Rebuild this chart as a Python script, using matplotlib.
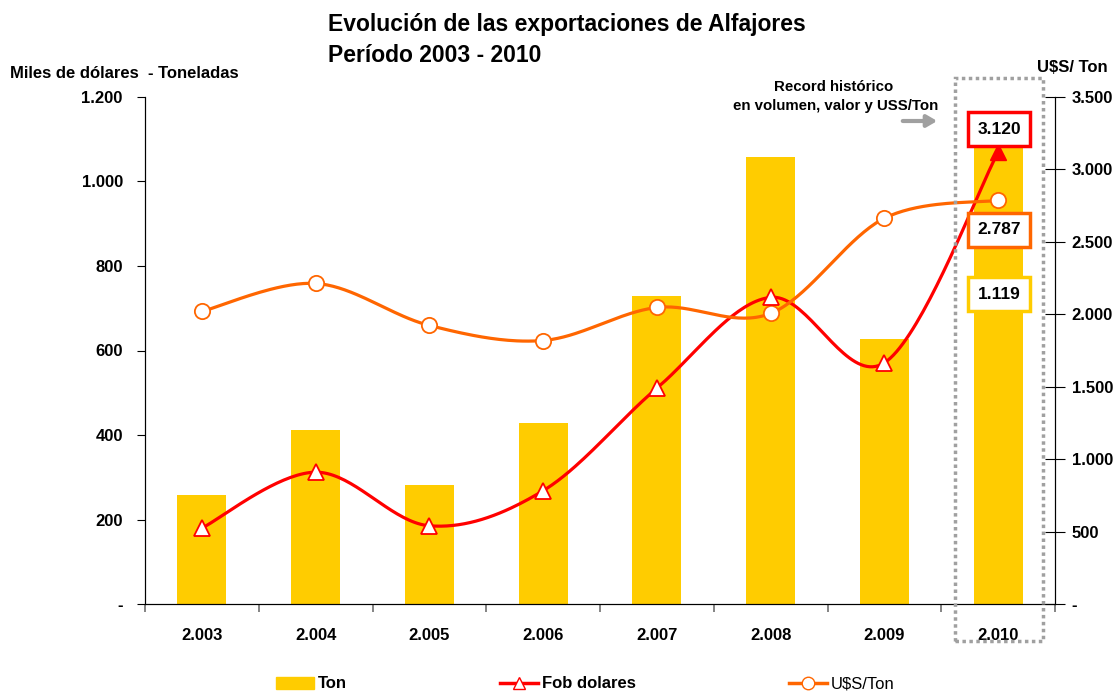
# alfajores exports 2003-2010: tons (bars), fob dollars and US$/ton (smoothed lines)

import numpy as np
import matplotlib.pyplot as plt
from matplotlib.lines import Line2D
from matplotlib.patches import Patch, Rectangle

plt.rcParams['font.family'] = ['Liberation Sans', 'DejaVu Sans']

# data
years = ['2.003', '2.004', '2.005', '2.006', '2.007', '2.008', '2.009', '2.010']
ton = [258, 412, 282, 429, 728, 1057, 627, 1119]          # toneladas
fob = [524, 910, 540, 782, 1490, 2117, 1665, 3120]        # miles de dolares
usd_ton = [2020, 2213, 1923, 1819, 2047, 2006, 2663, 2787]  # U$S/Ton

left_ticks = [0, 200, 400, 600, 800, 1000, 1200]
left_labels = ['-', '200', '400', '600', '800', '1.000', '1.200']
right_ticks = [0, 500, 1000, 1500, 2000, 2500, 3000, 3500]
right_labels = ['-', '500', '1.000', '1.500', '2.000', '2.500', '3.000', '3.500']

YELLOW = '#FFCC00'
RED = '#FF0000'
ORANGE = '#FF6600'
GREY = '#A0A0A0'


def fmt(v):
    return f'{v:,.0f}'.replace(',', '.')


def smooth(x, y, scale, n=40):
    # excel-like smoothed line (bezier through the points)
    pts = np.column_stack([x, np.asarray(y, float) * scale])
    out = []
    for i in range(len(pts) - 1):
        p0 = pts[max(i - 1, 0)]
        p1 = pts[i]
        p2 = pts[i + 1]
        p3 = pts[min(i + 2, len(pts) - 1)]
        c1 = p1 + (p2 - p0) / 6
        c2 = p2 - (p3 - p1) / 6
        t = np.linspace(0, 1, n)[:, None]
        out.append((1 - t)**3 * p1 + 3 * (1 - t)**2 * t * c1
                   + 3 * (1 - t) * t**2 * c2 + t**3 * p2)
    out = np.vstack(out)
    return out[:, 0], out[:, 1] / scale


W, H = 1117, 693
fig = plt.figure(figsize=(W / 100, H / 100), dpi=100)
ax = fig.add_axes([145 / W, 1 - 604 / H, 910 / W, 507 / H])
ax2 = ax.twinx()

x = np.arange(len(years))

# bars
ax.bar(x, ton, width=0.43, color=YELLOW, zorder=2)
ax.set_xlim(-0.5, len(years) - 0.5)
ax.set_ylim(0, 1200)
ax2.set_ylim(0, 3500)

# lines on the right axis
scale = (507 / 3500) / (910 / len(years))
sx, sy = smooth(x, fob, scale)
ax2.plot(sx, sy, color=RED, lw=2.3, zorder=3, solid_capstyle='round')
sx, sy = smooth(x, usd_ton, scale)
ax2.plot(sx, sy, color=ORANGE, lw=2.3, zorder=3, solid_capstyle='round')
ax2.plot(x, usd_ton, 'o', ms=11, mfc='white', mec=ORANGE, mew=1.3, zorder=4)
ax2.plot(x[:-1], fob[:-1], '^', ms=11, mfc='white', mec=RED, mew=1.3, zorder=5)
ax2.plot(x[-1:], fob[-1:], '^', ms=12, mfc=RED, mec=RED, zorder=5)

# axes styling
for a in (ax, ax2):
    a.spines['top'].set_visible(False)
ax.set_xticks(x)
ax.set_xticklabels(years, fontsize=12, fontweight='bold')
ax.tick_params(axis='x', which='major', length=0, pad=17)
ax.set_xticks(np.arange(-0.5, len(years)), minor=True)
ax.tick_params(axis='x', which='minor', length=6, color='#707070', width=1.2)
ax.set_yticks(left_ticks)
ax.set_yticklabels(left_labels, fontsize=12, fontweight='bold')
ax.tick_params(axis='y', length=6, pad=10)
ax2.set_yticks(right_ticks)
ax2.set_yticklabels(right_labels, fontsize=12, fontweight='bold')
ax2.tick_params(axis='y', direction='inout', length=14, pad=5)

# titles
fig.text(328 / W, 1 - 25 / H, 'Evolución de las exportaciones de Alfajores',
         fontsize=16.5, fontweight='bold', va='center')
fig.text(328 / W, 1 - 55 / H, 'Período 2003 - 2010',
         fontsize=16.5, fontweight='bold', va='center')
fig.text(10 / W, 1 - 73 / H, 'Miles de dólares  - Toneladas',
         fontsize=12, fontweight='bold', va='center')
fig.text(1037 / W, 1 - 68 / H, 'U$S/ Ton',
         fontsize=12, fontweight='bold', va='center')

# record annotation
fig.text(834 / W, 1 - 87 / H, 'Record histórico', fontsize=10.8,
         fontweight='bold', ha='center', va='center')
fig.text(836 / W, 1 - 106 / H, 'en volumen, valor y USS/Ton', fontsize=10.8,
         fontweight='bold', ha='center', va='center')
fig.patches.append(Rectangle((955 / W, 1 - 641 / H), 88 / W, 563 / H,
                             transform=fig.transFigure, fill=False,
                             ec=GREY, lw=2.5, ls=(0, (1, 1)), zorder=6))
ax2.annotate('', xy=(940 / W, 1 - 121 / H), xytext=(900 / W, 1 - 121 / H),
             xycoords='figure fraction', textcoords='figure fraction',
             arrowprops=dict(arrowstyle='-|>,head_length=0.6,head_width=0.35',
                             color=GREY, lw=3))

# value boxes
boxes = [(fmt(fob[-1]), 129, RED), (fmt(usd_ton[-1]), 230, ORANGE),
         (fmt(ton[-1]), 294, YELLOW)]
for txt, yy, col in boxes:
    fig.text(999 / W, 1 - yy / H, txt, fontsize=12.5, fontweight='bold',
             ha='center', va='center', zorder=10,
             bbox=dict(boxstyle='square,pad=0.55', fc='white', ec=col, lw=2.5))

# legend
handles = [Patch(color=YELLOW),
           Line2D([], [], color=RED, lw=2.5, marker='^', ms=9, mfc='white',
                  mec=RED),
           Line2D([], [], color=ORANGE, lw=2.5, marker='o', ms=9, mfc='white',
                  mec=ORANGE)]
leg = fig.legend(handles, ['Ton', 'Fob dolares', 'U$S/Ton'], ncol=3,
                 loc='center left', bbox_to_anchor=(276 / W, 1 - 684 / H),
                 frameon=False, fontsize=12, handlelength=2.3,
                 handletextpad=0.2, columnspacing=9.2, borderpad=0,
                 borderaxespad=0)
for t in leg.get_texts()[:2]:
    t.set_fontweight('bold')

plt.savefig('out.png', dpi=100)
